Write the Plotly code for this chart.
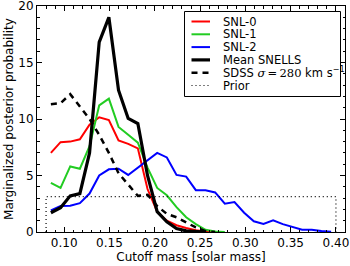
import numpy as np
import plotly.graph_objects as go

# bin centres: 30 bins between 0.08 and 0.40 solar mass
bin_lo, bin_hi, nbins = 0.08, 0.40, 30
mass = [bin_lo + (bin_hi - bin_lo) / nbins * (i + 0.5) for i in range(nbins)]

snl0 = [7.0, 7.95, 8.0, 8.2, 9.5, 10.15, 9.9, 8.1, 7.8, 7.4,
        3.8, 1.8, 1.0, 0.6, 0.35, 0.15, 0.05, 0.0]
snl1 = [4.35, 3.9, 5.8, 5.6, 7.6, 11.2, 11.8, 9.3, 8.6, 7.9,
        5.7, 3.9, 3.25, 2.2, 1.3, 0.7, 0.2, 0.05, 0.0]
snl2 = [1.9, 2.3, 2.33, 2.55, 3.4, 5.0, 5.55, 5.6, 5.05, 5.7,
        6.3, 7.0, 6.6, 5.05, 4.9, 3.7, 3.7, 3.5, 2.5, 2.65,
        1.7, 0.95, 0.72, 1.03, 0.7, 0.47, 0.2, 0.2, 0.08, 0.03]
mean_snells = [1.7, 2.15, 3.2, 3.4, 7.0, 16.8, 19.0, 12.55, 10.05, 9.6,
               5.0, 1.8, 0.9, 0.3, 0.1, 0.03, 0.0]
sdss = [11.3, 11.4, 12.2, 11.1, 10.0, 8.6, 7.0, 5.2, 4.2, 3.2,
        3.3, 2.3, 1.6, 1.3, 0.85, 0.4, 0.08, 0.0]
prior_density = 1.0 / (bin_hi - bin_lo)

labels = ["SNL-0", "SNL-1", "SNL-2", "Mean SNELLS",
          'SDSS <span style="font-family:DejaVu Serif"><i>σ</i>\u2009=\u2009280</span> km s<sup>−1</sup>',
          "Prior"]

W, H = 350, 266
ML, MR, MT, MB = 37, 5, 6, 34
PW, PH = W - ML - MR, H - MT - MB


def px_x(p):
    return (p - ML) / PW


def px_y(p):
    return (H - MB - p) / PH


fig = go.Figure()
line_styles = [
    dict(color="#ff0000", width=2),
    dict(color="#22cc22", width=2),
    dict(color="#0000ff", width=2),
    dict(color="black", width=3.2),
    dict(color="black", width=2.5, dash="6px,5px"),
    dict(color="black", width=1.2, dash="1px,3px"),
]
series = [snl0, snl1, snl2, mean_snells, sdss]
for vals, ln, name in zip(series, line_styles, labels):
    fig.add_trace(go.Scatter(x=mass[:len(vals)], y=vals, mode="lines",
                             line=ln, name=name, showlegend=False, hoverinfo="skip"))
fig.add_trace(go.Scatter(x=[bin_lo, bin_lo, bin_hi, bin_hi],
                         y=[0, prior_density, prior_density, 0],
                         mode="lines", name=labels[5], showlegend=False,
                         line=line_styles[5], hoverinfo="skip"))

# hand-built legend (compact, matplotlib-like)
shapes = [dict(type="rect", xref="paper", yref="paper", layer="above",
               x0=px_x(184.5), x1=px_x(340.5), y0=px_y(96.5), y1=px_y(11.5),
               fillcolor="white", line=dict(color="black", width=1))]
annotations = []
for k, (ln, name) in enumerate(zip(line_styles, labels)):
    yc = px_y(21.5 + 12.8 * k)
    shapes.append(dict(type="line", xref="paper", yref="paper", layer="above",
                       x0=px_x(191.5), x1=px_x(210), y0=yc, y1=yc,
                       line=dict(color=ln["color"], width=ln["width"],
                                 dash=ln.get("dash", "solid"))))
    annotations.append(dict(xref="paper", yref="paper", x=px_x(220.5), y=yc,
                            xanchor="left", yanchor="middle", text=name, showarrow=False,
                            font=dict(family="DejaVu Sans", size=11.5, color="black")))

font = dict(family="DejaVu Sans", size=12, color="black")
axis_common = dict(showline=True, linecolor="black", linewidth=1, mirror="allticks",
                   ticks="inside", ticklen=5, tickcolor="black", showgrid=False,
                   zeroline=False, tickfont=font, automargin=False,
                   ticklabeloverflow="allow")
fig.update_xaxes(range=[0.07, 0.41], tickvals=[0.10, 0.15, 0.20, 0.25, 0.30, 0.35, 0.40],
                 ticktext=["0.10", "0.15", "0.20", "0.25", "0.30", "0.35", "0.40"],
                 minor=dict(dtick=0.01, tick0=0.0, ticks="inside", ticklen=2.5, tickcolor="black"),
                 title=dict(text="Cutoff mass [solar mass]", font=font, standoff=0),
                 **axis_common)
fig.update_yaxes(range=[0, 20], tickvals=[0, 5, 10, 15, 20],
                 minor=dict(dtick=1, ticks="inside", ticklen=2.5, tickcolor="black"),
                 title=dict(text="Marginalized posterior probability", font=font, standoff=2),
                 **axis_common)
fig.update_layout(
    width=W, height=H,
    margin=dict(l=ML, r=MR, t=MT, b=MB),
    plot_bgcolor="white", paper_bgcolor="white",
    font=font, shapes=shapes, annotations=annotations, showlegend=False,
    hovermode=False,
)
fig.write_html("out.html", config={"displayModeBar": False},
               post_script="document.body.style.margin='0';")
